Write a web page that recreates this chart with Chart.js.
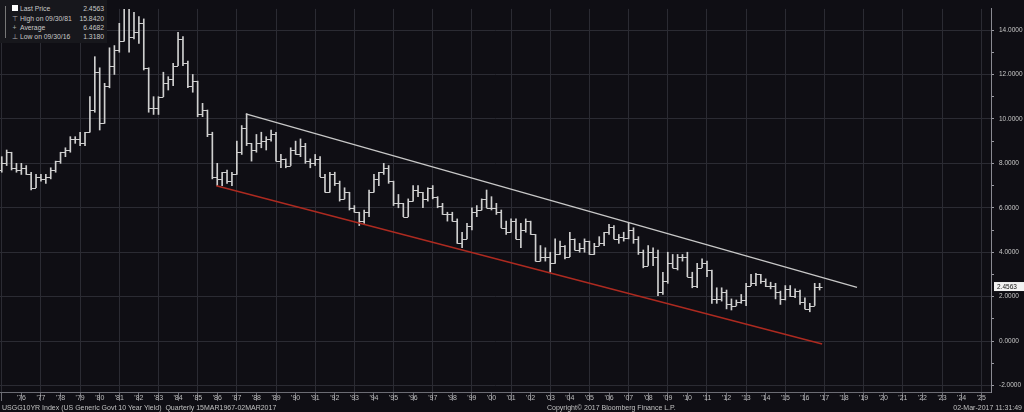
<!DOCTYPE html>
<html>
<head>
<meta charset="utf-8">
<script src="https://cdn.jsdelivr.net/npm/chart.js@4"></script>
<style>
  html, body { margin: 0; padding: 0; background: #0f0e14; width: 1024px; height: 412px; overflow: hidden; }
  body { font-family: "Liberation Sans", Arial, sans-serif; color: #c8c8c8; }
  #wrap { position: relative; width: 1024px; height: 412px; }
  canvas { display: block; }
  .legend { position: absolute; left: 0; top: 0; width: 107px; height: 43px; background: #17171c; font-size: 6.8px; }
  .legend .row { position: absolute; left: 0; width: 104px; height: 9px; line-height: 9px; }
  .legend .ico { position: absolute; left: 11px; width: 7px; text-align: center; color: #aaa; }
  .legend .lbl { position: absolute; left: 20px; }
  .legend .val { position: absolute; right: 0; }
  .legend .sq { position: absolute; left: 12px; top: 1px; width: 6px; height: 6px; background: #fff; }
  .legend .tree { position: absolute; left: 5px; top: 6px; width: 4px; height: 32px; border-left: 1px solid #777; }
  .foot { position: absolute; top: 403px; font-size: 7px; line-height: 9px; color: #c0c0c0; white-space: pre; }
</style>
</head>
<body>
<div id="wrap">
  <canvas id="c" width="1024" height="412"></canvas>
  <div class="legend">
    <div class="tree"></div>
    <div class="row" style="top:4px"><span class="sq"></span><span class="lbl">Last Price</span><span class="val">2.4563</span></div>
    <div class="row" style="top:14px"><span class="ico">⊤</span><span class="lbl">High on 09/30/81</span><span class="val">15.8420</span></div>
    <div class="row" style="top:23px"><span class="ico">+</span><span class="lbl">Average</span><span class="val">6.4682</span></div>
    <div class="row" style="top:32px"><span class="ico">⊥</span><span class="lbl">Low on 09/30/16</span><span class="val">1.3180</span></div>
  </div>
  <div class="foot" style="left:2px">USGG10YR Index (US Generic Govt 10 Year Yield)  Quarterly 15MAR1967-02MAR2017</div>
  <div class="foot" style="left:547px">Copyright© 2017 Bloomberg Finance L.P.</div>
  <div class="foot" style="right:2px">02-Mar-2017 11:31:49</div>
</div>
<script>
// Quarterly bars, first one is 1975 Q1, plotted at the quarter end.
const firstQuarterEnd = 1975.25;

// one line per year, Q1..Q4
const openVals = [
  7.4, 7.7, 8.0, 8.5,   7.8, 7.7, 7.8, 7.5,   6.9, 7.4, 7.3, 7.4,   7.7, 8.1, 8.5, 8.6,
  9.1, 9.1, 8.9, 9.4,   10.4, 12.1, 9.8, 11.5, 12.4, 13.1, 13.5, 15.3, 13.7, 13.9, 14.3, 12.3,
  10.5, 10.5, 11.0, 11.6, 11.8, 12.4, 13.6, 12.5, 11.5, 11.7, 10.2, 10.4, 9.3, 7.4, 7.3, 7.6,
  7.2, 7.5, 8.5, 9.6,   8.9, 8.6, 8.9, 9.0,   9.1, 9.3, 8.1, 8.2,   7.9, 8.6, 8.4, 8.8,
  8.1, 8.0, 8.2, 7.4,   6.7, 7.5, 7.1, 6.4,   6.7, 6.0, 5.8, 5.4,   5.8, 6.7, 7.3, 7.6,
  7.8, 7.2, 6.2, 6.2,   5.6, 6.3, 6.8, 6.7,   6.4, 6.9, 6.5, 6.1,   5.7, 5.7, 5.4, 4.4,
  4.6, 5.2, 5.8, 5.9,   6.4, 6.0, 6.0, 5.8,   5.1, 4.9, 5.4, 4.6,   5.0, 5.4, 4.8, 3.6,
  3.8, 3.8, 3.5, 3.9,   4.3, 3.8, 4.6, 4.1,   4.2, 4.5, 3.9, 4.3,   4.4, 4.9, 5.15, 4.6,
  4.7, 4.65, 5.0, 4.6,  4.0, 3.4, 4.0, 3.8,   2.2, 2.7, 3.5, 3.3,   3.8, 3.8, 2.9, 2.5,
  3.3, 3.5, 3.2, 1.9,   1.9, 2.2, 1.65, 1.6,  1.75, 1.85, 2.5, 2.6, 3.0, 2.7, 2.5, 2.5,
  2.2, 1.9, 2.35, 2.05, 2.25, 1.75, 1.45, 1.6, 2.45
];
const highVals = [
  7.9, 8.3, 8.6, 8.5,   8.0, 8.0, 7.9, 7.6,   7.5, 7.5, 7.5, 7.8,   8.1, 8.5, 8.7, 9.2,
  9.2, 9.4, 9.4, 11.0,  12.8, 12.3, 11.6, 13.2, 13.3, 14.3, 15.84, 15.6, 14.8, 14.6, 14.5, 12.3,
  11.0, 11.0, 12.1, 11.9, 12.5, 13.9, 13.7, 12.6, 12.0, 11.7, 10.7, 10.4, 9.4, 8.0, 7.6, 7.7,
  7.6, 9.0, 9.7, 10.23, 8.9, 9.3, 9.4, 9.2,   9.5, 9.4, 8.4, 8.2,   8.7, 9.0, 9.1, 8.9,
  8.2, 8.4, 8.3, 7.5,   7.6, 7.6, 7.2, 6.9,   6.7, 6.1, 5.8, 5.9,   6.8, 7.5, 7.6, 8.0,
  7.9, 7.2, 6.6, 6.2,   6.4, 7.0, 7.0, 6.7,   6.9, 7.0, 6.5, 6.2,   5.8, 5.8, 5.5, 4.9,
  5.3, 6.0, 6.1, 6.4,   6.8, 6.5, 6.2, 5.9,   5.4, 5.5, 5.5, 5.3,   5.5, 5.4, 4.8, 4.3,
  4.2, 4.0, 4.6, 4.5,   4.3, 4.9, 4.6, 4.4,   4.6, 4.5, 4.4, 4.7,   4.9, 5.25, 5.2, 4.8,
  4.9, 5.3, 5.1, 4.7,   4.1, 4.3, 4.2, 4.1,   3.1, 4.0, 3.9, 3.9,   3.9, 4.0, 3.1, 3.5,
  3.7, 3.6, 3.2, 2.4,   2.4, 2.3, 1.9, 1.85,  2.1, 2.6, 3.0, 3.05,  3.0, 2.8, 2.65, 2.6,
  2.25, 2.5, 2.5, 2.35, 2.3, 1.95, 1.7, 2.6,  2.6
];
const lowVals = [
  7.2, 7.6, 7.9, 7.7,   7.6, 7.5, 7.5, 6.8,   6.9, 7.2, 7.1, 7.3,   7.6, 8.0, 8.3, 8.5,
  8.9, 8.8, 8.8, 9.4,   10.3, 9.5, 9.8, 11.4,  12.0, 13.0, 13.5, 13.0, 13.6, 13.4, 12.2, 10.3,
  10.2, 10.2, 11.0, 11.3, 11.5, 12.4, 12.4, 11.4, 11.2, 10.1, 10.1, 9.2, 7.3, 7.0, 7.0, 7.1,
  7.0, 7.5, 8.4, 8.8,   8.1, 8.5, 8.7, 8.6,   9.0, 8.1, 7.8, 7.8,   7.9, 8.4, 8.3, 8.0,
  7.8, 7.9, 7.4, 6.7,   6.7, 7.0, 6.3, 6.4,   5.9, 5.8, 5.2, 5.3,   5.6, 6.7, 7.0, 7.5,
  7.1, 6.1, 6.0, 5.6,   5.6, 6.3, 6.5, 6.0,   6.3, 6.4, 6.0, 5.7,   5.4, 5.4, 4.4, 4.2,
  4.6, 5.0, 5.6, 5.9,   6.0, 5.9, 5.7, 5.1,   4.8, 4.9, 4.6, 4.2,   4.9, 4.8, 3.6, 3.6,
  3.6, 3.1, 3.5, 3.9,   3.7, 3.8, 4.1, 4.0,   4.0, 3.9, 3.9, 4.3,   4.3, 4.8, 4.6, 4.4,
  4.5, 4.6, 4.4, 3.9,   3.3, 3.4, 3.4, 2.05,  2.1, 2.6, 3.3, 3.2,   3.6, 2.9, 2.4, 2.4,
  3.3, 2.9, 1.7, 1.7,   1.8, 1.45, 1.4, 1.6,  1.7, 1.6, 2.5, 2.5,   2.6, 2.45, 2.35, 1.9,
  1.65, 1.85, 2.0, 1.95, 1.65, 1.45, 1.32, 1.6, 2.3
];
const closeVals = [
  7.7, 8.0, 8.5, 7.8,   7.7, 7.8, 7.5, 6.9,   7.4, 7.3, 7.4, 7.7,   8.1, 8.5, 8.6, 9.1,
  9.1, 8.9, 9.4, 10.4,  12.1, 9.8, 11.5, 12.4, 13.1, 13.5, 15.3, 13.7, 13.9, 14.3, 12.3, 10.5,
  10.5, 11.0, 11.6, 11.8, 12.4, 13.6, 12.5, 11.5, 11.7, 10.2, 10.4, 9.3, 7.4, 7.3, 7.6, 7.2,
  7.5, 8.5, 9.6, 8.9,   8.6, 8.9, 9.0, 9.1,   9.3, 8.1, 8.2, 7.9,   8.6, 8.4, 8.8, 8.1,
  8.0, 8.2, 7.4, 6.7,   7.5, 7.1, 6.4, 6.7,   6.0, 5.8, 5.4, 5.8,   6.7, 7.3, 7.6, 7.8,
  7.2, 6.2, 6.2, 5.6,   6.3, 6.8, 6.7, 6.4,   6.9, 6.5, 6.1, 5.7,   5.7, 5.4, 4.4, 4.6,
  5.2, 5.8, 5.9, 6.4,   6.0, 6.0, 5.8, 5.1,   4.9, 5.4, 4.6, 5.0,   5.4, 4.8, 3.6, 3.8,
  3.8, 3.5, 3.9, 4.3,   3.8, 4.6, 4.1, 4.2,   4.5, 3.9, 4.3, 4.4,   4.9, 5.15, 4.6, 4.7,
  4.65, 5.0, 4.6, 4.0,  3.4, 4.0, 3.8, 2.2,   2.7, 3.5, 3.3, 3.8,   3.8, 2.9, 2.5, 3.3,
  3.5, 3.2, 1.9, 1.9,   2.2, 1.65, 1.6, 1.75, 1.85, 2.5, 2.6, 3.0,  2.7, 2.5, 2.5, 2.2,
  1.9, 2.35, 2.05, 2.25, 1.75, 1.45, 1.6, 2.45, 2.4563
];

// hand-drawn trend channel (year, yield)
const upperTrendX = [1987.96, 2019.16];
const upperTrendY = [10.23, 2.42];
const lowerTrendX = [1986.45, 2017.38];
const lowerTrendY = [6.99, -0.13];

const lastPrice = 2.4563;
const yearTicks = [];
for (let yr = 1976; yr <= 2026; yr++) yearTicks.push(yr);
const valueTicks = [-2, -1, 0, 1, 2, 3, 4, 5, 6, 7, 8, 9, 10, 11, 12, 13, 14];

const barColor = '#cfcfcf';
const fontFamily = '"Liberation Sans", Arial, sans-serif';

const quarterEnds = closeVals.map((_, i) => firstQuarterEnd + i * 0.25);
const ranges = quarterEnds.map((t, i) => ({ x: t, y: [lowVals[i], highVals[i]] }));

// open tick to the left, close tick to the right of each high-low bar
const ohlcTicks = {
  id: 'ohlcTicks',
  afterDatasetsDraw(chart) {
    const { ctx, chartArea: a, scales: { x, y } } = chart;
    ctx.save();
    ctx.beginPath();
    ctx.rect(a.left, a.top, a.right - a.left, a.bottom - a.top);
    ctx.clip();
    ctx.strokeStyle = barColor;
    ctx.lineWidth = 1;
    ctx.beginPath();
    quarterEnds.forEach((t, i) => {
      const px = x.getPixelForValue(t);
      const po = Math.round(y.getPixelForValue(openVals[i])) + 0.5;
      const pc = Math.round(y.getPixelForValue(closeVals[i])) + 0.5;
      ctx.moveTo(px - 3, po); ctx.lineTo(px, po);
      ctx.moveTo(px, pc); ctx.lineTo(px + 3, pc);
    });
    ctx.stroke();
    ctx.restore();
  },
};

const background = {
  id: 'background',
  beforeDraw(chart) {
    const { ctx } = chart;
    ctx.save();
    ctx.fillStyle = '#0f0e14';
    ctx.fillRect(0, 0, chart.width, chart.height);
    ctx.restore();
  },
};

// white tag with the last price on the right axis
const lastTag = {
  id: 'lastTag',
  afterDraw(chart) {
    const { ctx, chartArea: a, scales: { y } } = chart;
    const py = y.getPixelForValue(lastPrice);
    ctx.save();
    ctx.fillStyle = '#f2f2f2';
    ctx.fillRect(a.right + 3, py - 4.5, 30, 9);
    ctx.fillStyle = '#111';
    ctx.font = '6.5px ' + fontFamily;
    ctx.textBaseline = 'middle';
    ctx.fillText(lastPrice.toFixed(4), a.right + 6, py + 0.5);
    ctx.restore();
  },
};

new Chart(document.getElementById('c'), {
  type: 'bar',
  data: {
    datasets: [
      {
        type: 'line', data: upperTrendX.map((t, i) => ({ x: t, y: upperTrendY[i] })),
        borderColor: '#c8c8c8', borderWidth: 1.3, pointRadius: 0,
      },
      {
        type: 'line', data: lowerTrendX.map((t, i) => ({ x: t, y: lowerTrendY[i] })),
        borderColor: '#ad2a20', borderWidth: 1.5, pointRadius: 0,
      },
      {
        type: 'bar', data: ranges, backgroundColor: barColor, barThickness: 1, borderSkipped: false,
      },
    ],
  },
  options: {
    responsive: false, animation: false, events: [],
    layout: { padding: { left: 0, top: 0, right: 0, bottom: 8 } },
    plugins: { legend: { display: false }, tooltip: { enabled: false } },
    scales: {
      x: {
        type: 'linear', min: 1975.41, max: 2026.0, offset: false,
        afterBuildTicks: (s) => { s.ticks = yearTicks.map((v) => ({ value: v })); },
        afterFit: (s) => { s.height = 12; },
        grid: {
          color: (c) => (c.tick && c.tick.value % 2 === 0 ? '#2b2b33' : 'rgba(0,0,0,0)'),
          tickColor: '#6c6c74', tickLength: 9,
        },
        border: { color: '#6c6c74' },
        ticks: {
          color: '#bdbdbd', font: { size: 7, family: fontFamily }, padding: -7,
          labelOffset: 9.8, autoSkip: false, maxRotation: 0,
          callback: (v) => (v <= 2025 ? "'" + String(v).slice(2) : ''),
        },
      },
      y: {
        position: 'right', min: -2.29, max: 14.95,
        afterBuildTicks: (s) => { s.ticks = valueTicks.map((v) => ({ value: v })); },
        afterFit: (s) => { s.width = 33; },
        grid: {
          color: (c) => (c.tick && c.tick.value % 2 === 0 ? '#2b2b33' : 'rgba(0,0,0,0)'),
          tickColor: '#9a9aa2', tickLength: 3,
        },
        border: { color: '#8a8a92' },
        ticks: {
          color: '#c8c8c8', font: { size: 6.5, family: fontFamily }, padding: 5,
          callback: (v) => (v % 2 === 0 ? v.toFixed(4) : ''),
        },
      },
    },
  },
  plugins: [background, ohlcTicks, lastTag],
});
</script>
</body>
</html>
